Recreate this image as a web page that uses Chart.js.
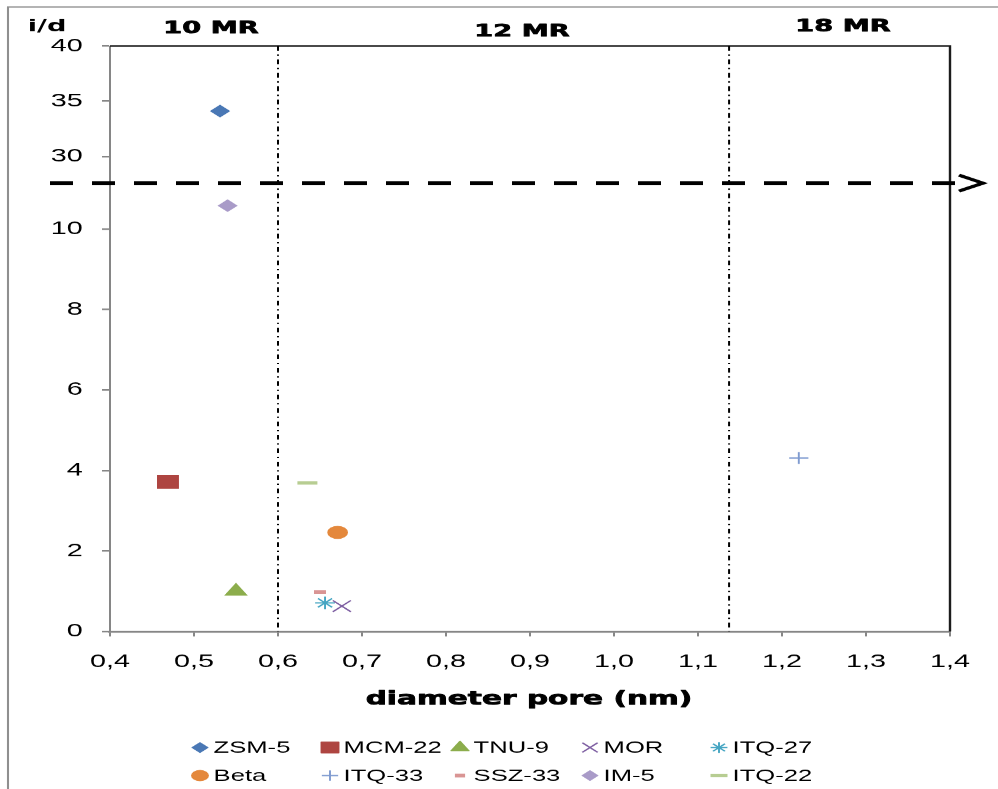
<!DOCTYPE html>
<html>
<head>
<meta charset="utf-8">
<script src="https://cdn.jsdelivr.net/npm/chart.js@4/dist/chart.umd.min.js"></script>
<style>
html,body{margin:0;padding:0;background:#fff;overflow:hidden}
#c{display:block}
</style>
</head>
<body>
<canvas id="c" width="624" height="789" style="width:998px;height:789px"></canvas>
<script>
// ---------- data ----------
const seriesNames  = ['ZSM-5','MCM-22','TNU-9','MOR','ITQ-27','Beta','ITQ-33','SSZ-33','IM-5','ITQ-22'];
const poreDiameter = [0.531, 0.469, 0.55, 0.676, 0.656, 0.671, 1.22, 0.65, 0.54, 0.635];
const iOverD       = [34.1, 3.72, 1.0, 0.63, 0.71, 2.46, 4.31, 0.98, 10.58, 3.69];
const xTickValues  = [0.4, 0.5, 0.6, 0.7, 0.8, 0.9, 1.0, 1.1, 1.2, 1.3, 1.4];
const yLowTicks    = [0, 2, 4, 6, 8, 10];
const yHighTicks   = [30, 35, 40];
const lowRange     = [0, 11.14];
const highRange    = [27.57, 40];
const ringBoundaries = [0.6, 1.137];
const ringLabels   = ['10 MR', '12 MR', '18 MR'];
const xTitle = 'diameter pore (nm)';
const yTitle = 'i/d';

// ---------- styles ----------
const markerStyles = ['rectRot','rect','triangle','crossRot','star','circle','cross','line','rectRot','line'];
const markerColors = ['#4A78B5','#AE4541','#8CAD4C','#7E5FA2','#45A5C2','#E4883C','#7F9BD0','#D99594','#A99BC8','#B7CD92'];
const markerRadii  = [5.7, 9, 7.5, 8, 6.2, 6, 6, 3.75, 5.6, 6.25];
const markerBorder = [1, 1, 1, 1.2, 1.2, 1, 1.2, 3.7, 1, 3.3];

const SX = 998 / 624;           // horizontal stretch of the picture
const tickFont = {family: '"Liberation Sans", Arial, sans-serif', size: 18};
const boldFam = '"DejaVu Sans", sans-serif';

const datasets = seriesNames.map((name, i) => ({
  label: name,
  data: [{x: poreDiameter[i], y: iOverD[i]}],
  yAxisID: iOverD[i] > lowRange[1] ? 'yHigh' : 'yLow',
  pointStyle: markerStyles[i],
  pointRadius: markerRadii[i],
  pointHoverRadius: markerRadii[i],
  backgroundColor: markerColors[i],
  borderColor: markerColors[i],
  borderWidth: markerBorder[i]
}));

function fixedTicks(arr) {
  return s => { s.ticks = arr.map(v => ({value: v})); };
}

const yCommon = {
  type: 'linear',
  position: 'left',
  stack: 'id',
  afterFit: s => { s.width = 110 / SX; },
  border: {display: true, color: '#868686', width: 1.25},
  grid: {display: true, drawOnChartArea: false, drawTicks: true, tickLength: 5, color: '#868686', lineWidth: 1.6},
  ticks: {padding: 12, color: '#000', font: tickFont, autoSkip: false}
};

function heavyText(ctx, txt, x, y) {
  ctx.fillText(txt, x, y);
  ctx.strokeText(txt, x, y);
}

const annot = {
  id: 'annot',
  beforeDatasetsDraw(chart) {
    const {ctx, chartArea: a, scales} = chart;
    ctx.save();
    // outer frame
    ctx.strokeStyle = '#8f8f8f';
    ctx.lineWidth = 1.3;
    ctx.beginPath();
    ctx.moveTo(8 / SX, 820); ctx.lineTo(8 / SX, 7); ctx.lineTo(700, 7);
    ctx.stroke();
    // top and right border of the plot
    ctx.strokeStyle = '#1c1c1c';
    ctx.lineWidth = 1.5;
    ctx.beginPath();
    ctx.moveTo(a.left, a.top); ctx.lineTo(a.right, a.top); ctx.lineTo(a.right, a.bottom);
    ctx.stroke();
    // ring boundaries (dash-dot)
    ctx.strokeStyle = '#000';
    ctx.lineWidth = 1.25;
    ctx.setLineDash([4.7, 3.7, 1.3, 3.7]);
    ringBoundaries.forEach(v => {
      const px = scales.x.getPixelForValue(v);
      ctx.beginPath(); ctx.moveTo(px, a.top); ctx.lineTo(px, a.bottom); ctx.stroke();
    });
    ctx.restore();
  },
  afterDraw(chart) {
    const {ctx, chartArea: a, scales} = chart;
    ctx.save();
    // axis break line
    const yb = scales.yLow.top;
    ctx.strokeStyle = '#000';
    ctx.lineWidth = 4;
    ctx.setLineDash([23 / SX, 19 / SX]);
    ctx.beginPath(); ctx.moveTo(50 / SX, yb); ctx.lineTo(955 / SX, yb); ctx.stroke();
    ctx.setLineDash([]);
    ctx.lineWidth = 3;
    ctx.lineJoin = 'miter';
    ctx.beginPath();
    ctx.moveTo(959 / SX, yb - 8); ctx.lineTo(983 / SX, yb); ctx.lineTo(959 / SX, yb + 8);
    ctx.stroke();

    // texts
    ctx.fillStyle = '#000';
    ctx.strokeStyle = '#000';
    ctx.lineJoin = 'round';
    ctx.textAlign = 'center';
    ctx.textBaseline = 'middle';
    ctx.font = 'bold 17px ' + boldFam;
    ctx.fillText(yTitle, 47 / SX, 27);
    ctx.lineWidth = 0.7;
    heavyText(ctx, ringLabels[0], 211 / SX, 29);
    heavyText(ctx, ringLabels[1], 522 / SX, 32);
    heavyText(ctx, ringLabels[2], 843 / SX, 27);
    ctx.font = 'bold 18.5px ' + boldFam;
    heavyText(ctx, xTitle, 529 / SX, 699);

    // legend (5 columns x 2 rows)
    const colX = [200, 330, 460, 590, 719];
    const rowY = [747, 775];
    ctx.font = '16px "Liberation Sans", Arial, sans-serif';
    ctx.textAlign = 'left';
    chart.data.datasets.forEach((ds, i) => {
      const cx = colX[i % 5] / SX, cy = rowY[Math.floor(i / 5)];
      ctx.save();
      ctx.fillStyle = ds.backgroundColor;
      ctx.strokeStyle = ds.borderColor;
      ctx.lineWidth = ds.borderWidth;
      Chart.helpers.drawPoint(ctx, {pointStyle: ds.pointStyle, radius: ds.pointRadius * 0.85, borderWidth: ds.borderWidth, rotation: 0}, cx, cy);
      ctx.restore();
      ctx.fillStyle = '#000';
      ctx.fillText(ds.label, cx + 8.5, cy + 1);
    });
    ctx.restore();
  }
};

new Chart(document.getElementById('c'), {
  type: 'scatter',
  data: {datasets},
  options: {
    responsive: false,
    devicePixelRatio: SX,
    animation: false,
    layout: {padding: {left: 0, right: 624 - 950 / SX, top: 46, bottom: 0}},
    plugins: {legend: {display: false}, tooltip: {enabled: false}},
    scales: {
      x: {
        type: 'linear',
        position: 'bottom',
        min: 0.4, max: 1.4,
        afterBuildTicks: fixedTicks(xTickValues),
        afterFit: s => { s.height = 158; },
        border: {display: true, color: '#868686', width: 2},
        grid: {display: true, drawOnChartArea: false, drawTicks: true, tickLength: 5, color: '#868686', lineWidth: 1.25},
        ticks: {padding: 15, color: '#000', font: tickFont, autoSkip: false, maxRotation: 0,
                callback: v => v.toFixed(1).replace('.', ',')}
      },
      yLow: Object.assign({}, yCommon, {
        stackWeight: 448, weight: 0,
        min: lowRange[0], max: lowRange[1],
        afterBuildTicks: fixedTicks(yLowTicks)
      }),
      yHigh: Object.assign({}, yCommon, {
        stackWeight: 137, weight: 1,
        min: highRange[0], max: highRange[1],
        afterBuildTicks: fixedTicks(yHighTicks)
      })
    }
  },
  plugins: [annot]
});
</script>
</body>
</html>
